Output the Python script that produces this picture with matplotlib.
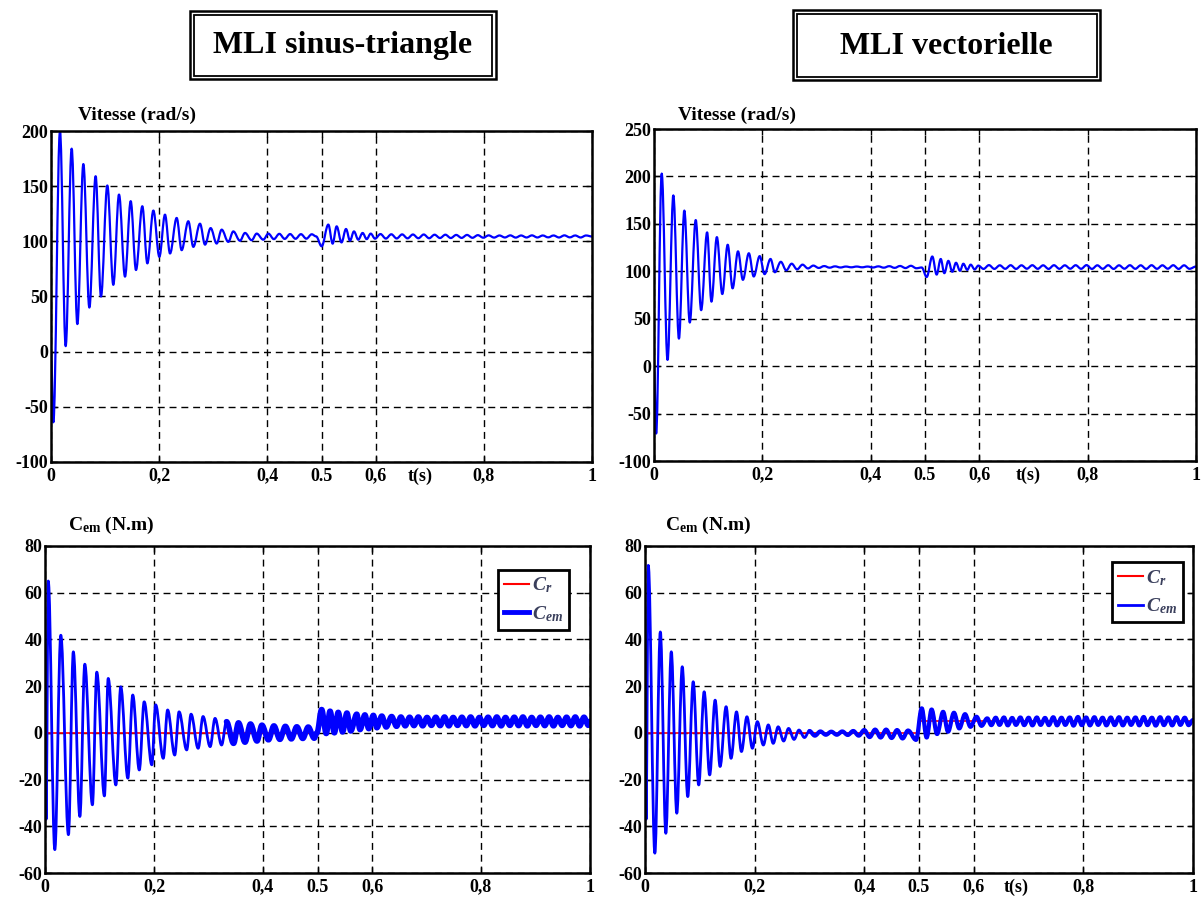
import matplotlib
matplotlib.use("Agg")
import matplotlib.pyplot as plt
from matplotlib.lines import Line2D
from matplotlib.patches import Rectangle, PathPatch
from matplotlib.path import Path

plt.rcParams['font.family'] = ['Liberation Serif', 'DejaVu Serif']
plt.rcParams['font.weight'] = 'bold'
plt.rcParams['mathtext.fontset'] = 'custom'
plt.rcParams['mathtext.rm'] = 'Liberation Serif'
plt.rcParams['mathtext.it'] = 'Liberation Serif:italic'
plt.rcParams['mathtext.bf'] = 'Liberation Serif:bold'

# ---------------- data ----------------
panel_titles = ["MLI sinus-triangle", "MLI vectorielle"]
speed_label = "Vitesse (rad/s)"
torque_label = r"$\mathbf{C_{em}}$ (N.m)"
x_ticks = [0, 0.2, 0.4, 0.5, 0.6, 0.8, 1]
x_ticklabels = ["0", "0,2", "0,4", "0.5", "0,6", "0,8", "1"]
speed_sin_yticks = [-100, -50, 0, 50, 100, 150, 200]
speed_vec_yticks = [-100, -50, 0, 50, 100, 150, 200, 250]
torque_yticks = [-60, -40, -20, 0, 20, 40, 60, 80]

# rotor speed, sinus-triangle PWM: (t, value) at the extrema of the curve
speed_sin = [
    (0.000, 0), (0.0043, -64), (0.0166, 200), (0.0271, 5), (0.0382, 184), (0.0487, 25),
    (0.0598, 170), (0.0709, 40), (0.0825, 159), (0.0924, 50), (0.1041, 150.6), (0.1152, 60.6),
    (0.1257, 142.4), (0.1368, 68), (0.1473, 136.4), (0.1571, 74), (0.1688, 131.8), (0.1781, 80),
    (0.1892, 127.9), (0.2003, 86), (0.2107, 124.2), (0.2200, 89), (0.2323, 121.2), (0.2415, 92),
    (0.2538, 118.2), (0.2631, 95), (0.2754, 116), (0.2847, 97), (0.2951, 112), (0.3062, 98),
    (0.3155, 110.6), (0.3277, 99.5), (0.3370, 109), (0.3493, 100.5), (0.3586, 107.6), (0.3709, 101),
    (0.3802, 107), (0.3924, 101.5), (0.4018, 107), (0.412, 102), (0.422, 106.8), (0.432, 102.2),
    (0.442, 106.6), (0.452, 102.3), (0.462, 106.5), (0.472, 102.4), (0.482, 106.4), (0.490, 104.5),
    (0.5003, 95.5), (0.5126, 115.2), (0.5206, 97.9), (0.528, 113.6), (0.537, 99), (0.5453, 111.2),
    (0.5527, 100.6), (0.560, 109), (0.568, 101.5), (0.576, 107.6), (0.5835, 102), (0.591, 107),
    (0.599, 102.4), (0.609, 106.6), (0.619, 102.5), (0.629, 106.4), (0.639, 102.6), (0.649, 106.3),
    (0.659, 102.7), (0.669, 106.2), (0.679, 102.8), (0.689, 106.2), (0.699, 102.8), (0.709, 106),
    (0.719, 103), (0.729, 106), (0.739, 103), (0.749, 105.8), (0.759, 103.1), (0.769, 105.8),
    (0.779, 103.2), (0.789, 105.6), (0.799, 103.3), (0.809, 105.4), (0.819, 103.4), (0.829, 105.3),
    (0.839, 103.5), (0.849, 105.4), (0.859, 103.4), (0.869, 105.3), (0.879, 103.5), (0.889, 105.4),
    (0.899, 103.5), (0.909, 105.3), (0.919, 103.6), (0.929, 105.3), (0.939, 103.5), (0.949, 105.4),
    (0.959, 103.6), (0.969, 105.3), (0.979, 103.5), (0.989, 105.3), (1.000, 104.4),
]

# rotor speed, space-vector PWM
speed_vec = [
    (0.000, 0), (0.004, -71), (0.0142, 203), (0.025, 6.6), (0.0357, 180), (0.046, 29),
    (0.056, 164), (0.066, 46), (0.077, 154), (0.087, 59), (0.098, 141), (0.106, 68),
    (0.116, 136), (0.126, 76), (0.136, 128), (0.145, 82), (0.155, 121), (0.164, 91),
    (0.175, 119), (0.184, 94.5), (0.195, 116), (0.204, 97), (0.215, 113), (0.223, 99),
    (0.234, 110), (0.244, 101), (0.254, 108), (0.264, 102), (0.274, 107), (0.284, 103),
    (0.294, 106), (0.304, 103.5), (0.314, 105.5), (0.324, 103.8), (0.334, 105.2), (0.344, 104),
    (0.354, 105), (0.364, 104.2), (0.374, 105), (0.384, 104.2), (0.394, 105), (0.404, 104),
    (0.414, 105.2), (0.424, 103.8), (0.434, 105.4), (0.444, 103.6), (0.454, 105.6), (0.464, 103.4),
    (0.474, 105.8), (0.484, 103.2), (0.494, 104), (0.5031, 94), (0.5135, 115.6), (0.5215, 96.5),
    (0.529, 113), (0.5357, 98), (0.5431, 111), (0.5504, 99.5), (0.5572, 109), (0.5646, 100.5),
    (0.5707, 108), (0.578, 101.5), (0.5843, 107), (0.5916, 102), (0.5984, 106), (0.608, 102.5),
    (0.618, 106.5), (0.628, 102.5), (0.638, 106.3), (0.648, 102.6), (0.658, 106.4), (0.668, 102.5),
    (0.678, 106.3), (0.688, 102.7), (0.698, 106.4), (0.708, 102.6), (0.718, 106.3), (0.728, 102.5),
    (0.738, 106.4), (0.748, 102.6), (0.758, 106.3), (0.768, 102.7), (0.778, 106.4), (0.788, 102.6),
    (0.798, 106.5), (0.808, 102.5), (0.818, 106.3), (0.828, 102.6), (0.838, 106.4), (0.848, 102.5),
    (0.858, 106.3), (0.868, 102.7), (0.878, 106.4), (0.888, 102.6), (0.898, 106.3), (0.908, 102.5),
    (0.918, 106.4), (0.928, 102.6), (0.938, 106.3), (0.948, 102.7), (0.958, 106.4), (0.968, 102.5),
    (0.978, 106.3), (0.988, 102.6), (1.000, 105),
]

# electromagnetic torque, sinus-triangle PWM
torque_sin = [
    (0.000, 0), (0.002, -37), (0.006, 65), (0.018, -50), (0.029, 41.8), (0.043, -43.6),
    (0.052, 34.7), (0.064, -35.8), (0.073, 29.4), (0.087, -30.8), (0.095, 26), (0.109, -27),
    (0.116, 23.3), (0.130, -22.3), (0.139, 19.7), (0.152, -19.4), (0.161, 16.2), (0.173, -15.9),
    (0.182, 13.3), (0.196, -13.7), (0.203, 12), (0.217, -10.9), (0.225, 9.8), (0.238, -9.5),
    (0.246, 9), (0.260, -7.3), (0.268, 8), (0.281, -6.6), (0.290, 7), (0.303, -5.9),
    (0.312, 6.2), (0.324, -5.2), (0.333, 4.8), (0.346, -4.5), (0.355, 4.3), (0.367, -4),
    (0.377, 3.8), (0.389, -3.5), (0.398, 3.3), (0.410, -3), (0.420, 3), (0.431, -2.8),
    (0.441, 2.8), (0.452, -2.6), (0.462, 2.6), (0.473, -2.4), (0.483, 2.5), (0.494, -2.3),
    (0.499, 0), (0.5076, 10), (0.516, -0.3), (0.523, 9.3), (0.531, 0), (0.538, 8.8),
    (0.546, 0.4), (0.554, 8.5), (0.561, 0.8), (0.572, 8.0), (0.578, 1.4), (0.587, 7.7),
    (0.594, 1.8), (0.6025, 7.5), (0.609, 2.2), (0.618, 7.2), (0.626, 2.5), (0.636, 7),
    (0.645, 2.8), (0.653, 6.8), (0.661, 3.0), (0.669, 6.7), (0.677, 3.1), (0.685, 6.8),
    (0.693, 3.0), (0.701, 6.6), (0.709, 3.2), (0.717, 6.7), (0.725, 3.1), (0.733, 6.8),
    (0.741, 3.0), (0.749, 6.6), (0.757, 3.2), (0.765, 6.7), (0.773, 3.1), (0.781, 6.8),
    (0.789, 3.0), (0.797, 6.6), (0.805, 3.2), (0.813, 6.7), (0.821, 3.1), (0.829, 6.8),
    (0.837, 3.0), (0.845, 6.6), (0.853, 3.2), (0.861, 6.7), (0.869, 3.1), (0.877, 6.8),
    (0.885, 3.0), (0.893, 6.6), (0.901, 3.2), (0.909, 6.7), (0.917, 3.1), (0.925, 6.8),
    (0.933, 3.0), (0.941, 6.6), (0.949, 3.2), (0.957, 6.7), (0.965, 3.1), (0.973, 6.8),
    (0.981, 3.0), (0.989, 6.7), (0.997, 3.2), (1.000, 5),
]

# electromagnetic torque, space-vector PWM
torque_vec = [
    (0.000, 0), (0.002, -37), (0.006, 71.7), (0.018, -51.5), (0.028, 43.2), (0.038, -43),
    (0.048, 34.7), (0.058, -34.4), (0.068, 28.3), (0.078, -27.3), (0.088, 21.9), (0.098, -22.3),
    (0.108, 17.6), (0.118, -18), (0.128, 14), (0.137, -14.4), (0.148, 11.2), (0.157, -10.9),
    (0.167, 9), (0.176, -8), (0.186, 6.9), (0.196, -6.6), (0.205, 4.8), (0.216, -5.2),
    (0.225, 3.4), (0.234, -4.5), (0.243, 2.6), (0.253, -3.5), (0.262, 1.9), (0.272, -2.8),
    (0.281, 1.2), (0.291, -2), (0.300, 0.8), (0.310, -1.2), (0.320, 0.6), (0.330, -0.8),
    (0.340, 0.5), (0.350, -0.8), (0.360, 0.6), (0.370, -0.9), (0.380, 0.8), (0.390, -1.2),
    (0.400, 1.2), (0.410, -1.8), (0.420, 1.4), (0.430, -2.0), (0.440, 1.4), (0.450, -2.2),
    (0.460, 1.2), (0.470, -2.4), (0.480, 1.0), (0.4946, -3), (0.505, 10.5), (0.514, -2),
    (0.523, 10), (0.533, -0.5), (0.544, 9), (0.553, 0.5), (0.5638, 8.6), (0.5735, 1.9),
    (0.584, 8), (0.594, 2.6), (0.605, 6.9), (0.614, 3), (0.6245, 6.2), (0.632, 3.3),
    (0.640, 6.5), (0.647, 3.4), (0.655, 6.6), (0.662, 3.2), (0.670, 6.4), (0.677, 3.4),
    (0.685, 6.6), (0.692, 3.3), (0.700, 6.5), (0.707, 3.2), (0.715, 6.6), (0.722, 3.4),
    (0.730, 6.4), (0.737, 3.3), (0.745, 6.7), (0.752, 3.2), (0.760, 6.5), (0.767, 3.4),
    (0.775, 6.6), (0.782, 3.1), (0.790, 6.8), (0.797, 3.3), (0.805, 6.6), (0.812, 3.2),
    (0.820, 6.7), (0.827, 3.4), (0.835, 6.5), (0.842, 3.2), (0.850, 6.6), (0.857, 3.3),
    (0.865, 6.7), (0.872, 3.2), (0.880, 6.5), (0.887, 3.4), (0.895, 6.6), (0.902, 3.2),
    (0.910, 6.8), (0.917, 3.3), (0.925, 6.5), (0.932, 3.1), (0.940, 6.7), (0.947, 3.3),
    (0.955, 6.6), (0.962, 3.2), (0.970, 6.7), (0.977, 3.4), (0.985, 6.5), (0.992, 3.3),
    (1.000, 5.5),
]

# load torque C_r (step at t = 0.5 s)
load_t = [0, 0.5, 0.5, 1.0]
load_v = [0, 0, 5, 5]

# ---------------- figure ----------------
W, H = 1202, 902
fig = plt.figure(figsize=(W / 100, H / 100), dpi=100)
BLUE = '#0000ff'


def fx(px):
    return px / W


def fy(py):
    return 1 - py / H


def make_ax(left, right, top, bottom):
    return fig.add_axes([fx(left), fy(bottom), fx(right) - fx(left), fy(top) - fy(bottom)])


def style(ax, ylim, yticks, tlabel_x=None):
    ax.set_xlim(0, 1)
    ax.set_ylim(*ylim)
    ax.set_xticks(x_ticks)
    ax.set_xticklabels(x_ticklabels)
    ax.set_yticks(yticks)
    ax.set_yticklabels([str(v) for v in yticks])
    ax.grid(True, color='black', linestyle=(0, (5, 3.5)), linewidth=1.0, zorder=1.5)
    ax.tick_params(direction='in', top=True, right=True, length=4, width=1.0,
                   labelsize=13, pad=2)
    ax.tick_params(axis='x', pad=4)
    for lab in ax.get_xticklabels() + ax.get_yticklabels():
        lab.set_fontweight('bold')
    for sp in ax.spines.values():
        sp.set_linewidth(1.8)
    if tlabel_x is not None:
        ax.annotate('t(s)', xy=(tlabel_x, 0), xycoords=('data', 'axes fraction'),
                    xytext=(0, -4), textcoords='offset points', ha='center', va='top',
                    fontsize=13, fontweight='bold')


def split(pts):
    return [p[0] for p in pts], [p[1] for p in pts]


def draw_wave(ax, t, v, lw, k=0.36):
    """Draw the curve through its extrema with smooth (horizontal-tangent) arcs."""
    verts = [(t[0], v[0])]
    codes = [Path.MOVETO]
    for i in range(len(t) - 1):
        dt = t[i + 1] - t[i]
        verts += [(t[i] + k * dt, v[i]), (t[i + 1] - k * dt, v[i + 1]), (t[i + 1], v[i + 1])]
        codes += [Path.CURVE4] * 3
    patch = PathPatch(Path(verts, codes), fill=False, edgecolor=BLUE, lw=lw,
                      joinstyle='round', capstyle='round', zorder=2.2)
    ax.add_patch(patch)


# top-left: speed, sinus-triangle
ax1 = make_ax(51, 592, 131, 462)
t, v = split(speed_sin)
draw_wave(ax1, t, v, 1.6)
style(ax1, (-100, 200), speed_sin_yticks, tlabel_x=0.682)

# top-right: speed, vector
ax2 = make_ax(654, 1196, 129, 461)
t, v = split(speed_vec)
draw_wave(ax2, t, v, 1.6)
style(ax2, (-100, 250), speed_vec_yticks, tlabel_x=0.69)


def torque_panel(ax, pts, thick_from, lw_thick, legend_anchor, legend_lw):
    ax.plot(load_t, load_v, color='red', lw=1.2, zorder=2)
    t, v = split(pts)
    draw_wave(ax, t, v, 2.0)
    idx = next(i for i, tt in enumerate(t) if tt >= thick_from)
    draw_wave(ax, t[idx:], v[idx:], lw_thick)
    handles = [Line2D([], [], color='red', lw=1.5), Line2D([], [], color=BLUE, lw=legend_lw)]
    leg = ax.legend(handles, [r'$C_r$', r'$C_{em}$'], loc='upper right',
                    bbox_to_anchor=legend_anchor, fancybox=False, framealpha=1,
                    edgecolor='black', handlelength=1.3, handletextpad=0.15,
                    borderpad=0.3, labelspacing=0.45, borderaxespad=0, fontsize=14)
    leg.set_zorder(5)
    leg.get_frame().set_linewidth(2.0)
    for txt in leg.get_texts():
        txt.set_color('#3a3f5c')


ax3 = make_ax(45, 590, 546, 873)
torque_panel(ax3, torque_sin, 0.33, 4.0, (0.961, 0.927), 3.5)
style(ax3, (-60, 80), torque_yticks)

ax4 = make_ax(645, 1193, 546, 873)
torque_panel(ax4, torque_vec, 0.30, 3.0, (0.982, 0.951), 2.0)
style(ax4, (-60, 80), torque_yticks, tlabel_x=0.677)

# axis captions above the panels
for (x, y, s) in [(78, 115, speed_label), (678, 115, speed_label),
                  (68, 525, torque_label), (665, 525, torque_label)]:
    fig.text(fx(x), fy(y), s, ha='left', va='center', fontsize=14, fontweight='bold')

# titled double-bordered boxes
for (x0, x1, y0, y1, s) in [(190, 496, 11, 79, panel_titles[0]), (793, 1100, 10, 80, panel_titles[1])]:
    fig.add_artist(Rectangle((fx(x0), fy(y1)), fx(x1) - fx(x0), fy(y0) - fy(y1),
                             transform=fig.transFigure, fill=False, edgecolor='black', lw=1.8))
    d = 3.5
    fig.add_artist(Rectangle((fx(x0 + d), fy(y1 - d)), fx(x1 - x0 - 2 * d), fy(y0 + d) - fy(y1 - d),
                             transform=fig.transFigure, fill=False, edgecolor='black', lw=1.3))
    fig.text(fx((x0 + x1) / 2), fy((y0 + y1) / 2 + 1), s, ha='center', va='center',
             fontsize=23, fontweight='bold')

fig.savefig('out.png', dpi=100)
